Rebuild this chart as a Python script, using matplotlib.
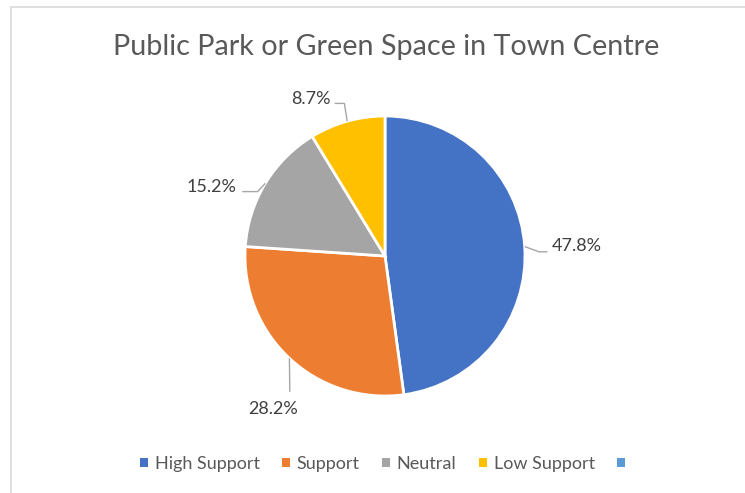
import numpy as np
import matplotlib
matplotlib.use("Agg")
import matplotlib.pyplot as plt
from matplotlib.patches import Patch, Rectangle

title = "Public Park or Green Space in Town Centre"
categories = ["High Support", "Support", "Neutral", "Low Support", ""]
values = [47.8, 28.2, 15.2, 8.7, 0]
colors = ["#4472C4", "#ED7D31", "#A5A5A5", "#FFC000", "#5B9BD5"]

plt.rcParams["font.family"] = ["Lato", "DejaVu Sans"]

W, H = 745, 493
fig = plt.figure(figsize=(W / 100, H / 100), dpi=100)

# chart frame (right/bottom edges run off the picture)
fig.patches.append(Rectangle((11 / W, -0.1), 1.2, (H - 7) / H + 0.1,
                             transform=fig.transFigure, fill=False,
                             edgecolor="#D9D9D9", linewidth=1.2))

fig.text(386 / W, 1 - 47 / H, title, ha="center", va="center",
         fontsize=20.7, color="#595959")

# pie axes: center at (385, 256) px, radius 140 px
cx, cy, r = 385, 256, 140
half = 200
ax = fig.add_axes([(cx - half) / W, (H - cy - half) / H, 2 * half / W, 2 * half / H])

vals = [v for v in values if v > 0]
cols = [c for v, c in zip(values, colors) if v > 0]
wedges, _ = ax.pie(vals, colors=cols, startangle=90, counterclock=False,
                   radius=1, wedgeprops=dict(edgecolor="white", linewidth=2))
lim = half / r
ax.set_xlim(-lim, lim)
ax.set_ylim(-lim, lim)
ax.set_aspect("equal")
ax.axis("off")

total = sum(vals)
pcts = [100 * v / total for v in vals]

# label placement: (elbow point, end point, text pos, ha)
layout = [
    ((1.10, 0.03), (1.16, 0.03), (1.19, 0.07), "left"),
    ((-0.68, -0.97), (-0.68, -0.97), (-0.80, -1.09), "center"),
    ((-0.91, 0.46), (-1.02, 0.46), (-1.06, 0.49), "right"),
    ((-0.29, 1.09), (-0.36, 1.09), (-0.39, 1.12), "right"),
]
for w, p, (elb, end, tp, ha) in zip(wedges, pcts, layout):
    mid = np.deg2rad((w.theta1 + w.theta2) / 2)
    ex, ey = np.cos(mid), np.sin(mid)
    ax.plot([ex, elb[0], end[0]], [ey, elb[1], end[1]], color="#A6A6A6",
            linewidth=1, solid_capstyle="butt")
    ax.text(tp[0], tp[1], f"{p:.1f}%", ha=ha, va="center",
            fontsize=13, color="#404040")

handles = [Patch(facecolor=c, edgecolor="none") for c in colors]
fig.legend(handles, categories, loc="center", bbox_to_anchor=(386 / W, 1 - 464 / H),
           ncol=5, frameon=False, fontsize=13, labelcolor="#595959",
           handlelength=0.45, handleheight=0.45, handletextpad=0.35,
           columnspacing=1.25)

fig.savefig("out.png", dpi=100)
